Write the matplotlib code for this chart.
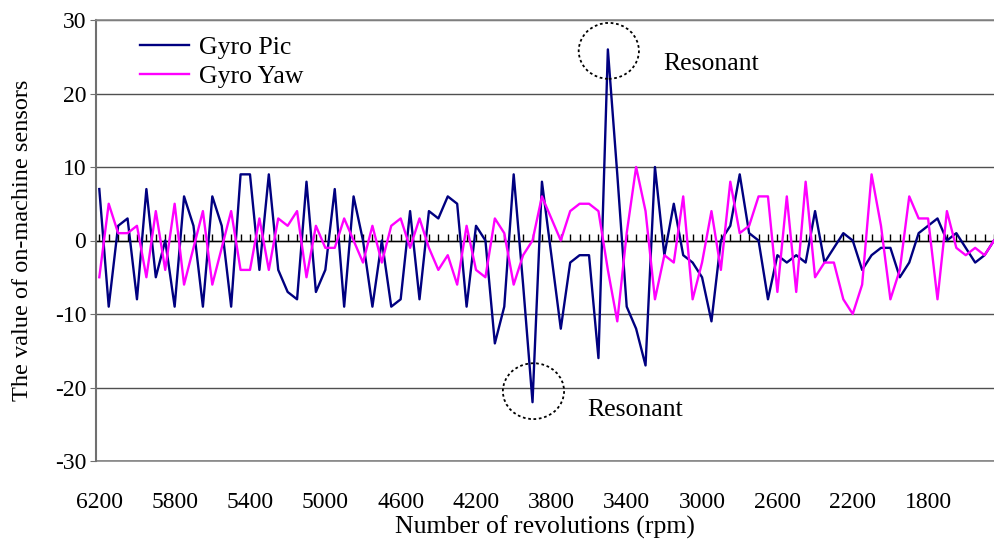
import matplotlib
matplotlib.use('Agg')
import matplotlib.pyplot as plt
import numpy as np
from matplotlib.patches import Ellipse

# ---------------- data ----------------
rpm = list(range(6200, 1400, -50))  # categories 6200 ... 1450

gyro_pic = [7, -9, 2, 3, -8, 7, -5, 0, -9, 6,
            2, -9, 6, 2, -9, 9, 9, -4, 9, -4,
            -7, -8, 8, -7, -4, 7, -9, 6, 0, -9,
            0, -9, -8, 4, -8, 4, 3, 6, 5, -9,
            2, 0, -14, -9, 9, -6, -22, 8, -2, -12,
            -3, -2, -2, -16, 26, 9, -9, -12, -17, 10,
            -2, 5, -2, -3, -5, -11, 0, 2, 9, 1,
            0, -8, -2, -3, -2, -3, 4, -3, -1, 1,
            0, -4, -2, -1, -1, -5, -3, 1, 2, 3,
            0, 1, -1, -3, -2, 0]

gyro_yaw = [-5, 5, 1, 1, 2, -5, 4, -4, 5, -6,
            -1, 4, -6, -1, 4, -4, -4, 3, -4, 3,
            2, 4, -5, 2, -1, -1, 3, 0, -3, 2,
            -3, 2, 3, -1, 3, -1, -4, -2, -6, 2,
            -4, -5, 3, 1, -6, -2, 0, 6, 3, 0,
            4, 5, 5, 4, -4, -11, 1, 10, 4, -8,
            -2, -3, 6, -8, -3, 4, -4, 8, 1, 2,
            6, 6, -7, 6, -7, 8, -5, -3, -3, -8,
            -10, -6, 9, 2, -8, -4, 6, 3, 3, -8,
            4, -1, -2, -1, -2, 0]

tick_labels = ['6200', '5800', '5400', '5000', '4600', '4200',
               '3800', '3400', '3000', '2600', '2200', '1800']
y_ticks = [-30, -20, -10, 0, 10, 20, 30]

# ---------------- figure ----------------
plt.rcParams['font.family'] = ['Liberation Serif', 'DejaVu Serif']
plt.rcParams['axes.unicode_minus'] = False

W, H = 994, 542
fig = plt.figure(figsize=(W / 100, H / 100), dpi=100)
ax = fig.add_axes([96 / W, 1 - 461 / H, 898 / W, 441 / H])

x = np.arange(len(rpm))
ax.set_xlim(-0.35, 94.25)
ax.set_ylim(-30, 30)

ax.plot(x, gyro_pic, color='#000080', lw=1.7, label='Gyro Pic', zorder=3)
ax.plot(x, gyro_yaw, color='#FF00FF', lw=1.7, label='Gyro Yaw', zorder=4)

# horizontal grid
ax.set_yticks(y_ticks)
ax.yaxis.grid(True, color='#505050', lw=1.0, zorder=1)
ax.set_axisbelow(True)
ax.tick_params(axis='y', direction='out', length=4, color='#707070',
               labelsize=17, pad=3)

# spines
ax.spines['right'].set_visible(False)
ax.spines['top'].set_color('#888888')
ax.spines['top'].set_linewidth(1.2)
ax.spines['left'].set_color('#707070')
ax.spines['left'].set_linewidth(1.5)
ax.spines['bottom'].set_position(('data', 0))
ax.spines['bottom'].set_color('black')
ax.spines['bottom'].set_linewidth(1.0)
ax.spines['bottom'].set_zorder(2)

# category ticks on the zero line
ax.set_xticks(x)
ax.tick_params(axis='x', direction='in', length=5, width=1, color='black',
               labelbottom=False)

# labels at the bottom
sec = ax.secondary_xaxis('bottom')
sec.set_xticks(x[::8], labels=tick_labels)
sec.tick_params(length=0, labelsize=17, pad=22)
sec.spines['bottom'].set_color('#888888')
sec.spines['bottom'].set_linewidth(1.2)
sec.set_xlabel('Number of revolutions (rpm)', fontsize=18.5, labelpad=2)

ax.set_ylabel('The value of on-machine sensors', fontsize=17.5)
ax.yaxis.set_label_coords(-(96 - 33) / 898, 0.5)

# legend
ax.legend(loc='upper left', bbox_to_anchor=(140 / W, 1 - 36 / H),
          bbox_transform=fig.transFigure, frameon=False, fontsize=18.5,
          handlelength=1.9, handletextpad=0.4, labelspacing=0.22,
          borderpad=0, borderaxespad=0)

# resonance annotations
i_max = int(np.argmax(gyro_pic))
i_min = int(np.argmin(gyro_pic))
ax.add_patch(Ellipse((i_max + 0.1, gyro_pic[i_max] - 0.2), 6.4, 7.6,
                     fill=False, ls=(0, (1.5, 1.5)), lw=1.3, color='black', zorder=5))
ax.add_patch(Ellipse((i_min + 0.1, gyro_pic[i_min] + 1.5), 6.5, 7.6,
                     fill=False, ls=(0, (1.5, 1.5)), lw=1.3, color='black', zorder=5))
ax.text(i_max + 5.9, gyro_pic[i_max] - 2.0, 'Resonant', fontsize=18.5,
        va='center', ha='left')
ax.text(i_min + 5.8, gyro_pic[i_min] - 1.1, 'Resonant', fontsize=18.5,
        va='center', ha='left')

fig.savefig('out.png', dpi=100)
